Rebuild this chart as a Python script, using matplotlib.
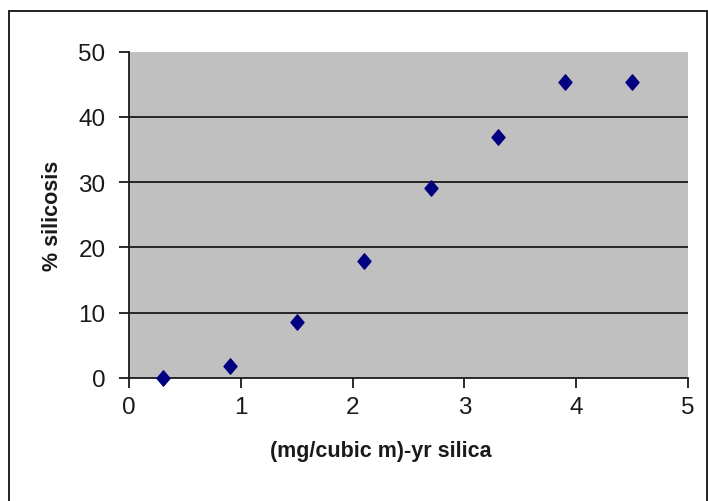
import matplotlib
matplotlib.use("Agg")
import matplotlib.pyplot as plt
from matplotlib.patches import Rectangle
from matplotlib.path import Path

# Data
exposure = [0.3, 0.9, 1.5, 2.1, 2.7, 3.3, 3.9, 4.5]
silicosis_pct = [0.0, 1.9, 8.6, 18.0, 29.1, 36.9, 45.4, 45.4]
x_ticks = [0, 1, 2, 3, 4, 5]
y_ticks = [0, 10, 20, 30, 40, 50]
x_label = "(mg/cubic m)-yr silica"
y_label = "% silicosis"

plt.rcParams['font.family'] = ['Liberation Sans', 'DejaVu Sans']

fig = plt.figure(figsize=(7.08, 5.02), dpi=100)
W, H = 708, 502

# outer chart border
fig.patches.append(Rectangle((9 / W, -0.05), (706.5 - 9) / W, 1 - 11.7 / H + 0.05,
                             transform=fig.transFigure, fill=False,
                             edgecolor='#111111', linewidth=1.3))

left, right, top, bottom = 129, 688, 52.7, 379
ax = fig.add_axes([left / W, 1 - bottom / H, (right - left) / W, (bottom - top) / H])
ax.set_facecolor('#C0C0C0')

diamond = Path([(0, 1), (0.85, 0), (0, -1), (-0.85, 0), (0, 1)],
               [Path.MOVETO, Path.LINETO, Path.LINETO, Path.LINETO, Path.CLOSEPOLY])
ax.plot(exposure, silicosis_pct, linestyle='none', marker=diamond,
        markersize=11, color='#000080', markeredgecolor='#000080', zorder=3,
        clip_on=False)

ax.set_xlim(0, 5)
ax.set_ylim(0, 50)
ax.set_xticks(x_ticks)
ax.set_yticks(y_ticks)
ax.set_xticklabels([str(v) for v in x_ticks])
ax.set_yticklabels([str(v) for v in y_ticks])

for v in y_ticks[1:-1]:
    ax.axhline(v, color='#1a1a1a', linewidth=1.3, zorder=1)

for s in ['top', 'right']:
    ax.spines[s].set_visible(False)
for s in ['left', 'bottom']:
    ax.spines[s].set_color('#1a1a1a')
    ax.spines[s].set_linewidth(1.3)

ax.tick_params(axis='both', direction='out', length=7, width=1.3,
               color='#1a1a1a', labelsize=17.5, labelcolor='#1a1a1a')
ax.tick_params(axis='y', pad=10)
ax.tick_params(axis='x', pad=6)

ax.set_xlabel(x_label, fontsize=15.5, fontweight='bold', color='#1a1a1a')
ax.set_ylabel(y_label, fontsize=15.5, fontweight='bold', color='#1a1a1a')
ax.xaxis.set_label_coords((381 - left) / (right - left), (bottom - 452) / (bottom - top))
ax.yaxis.set_label_coords((53 - left) / (right - left), 0.5)
ax.xaxis.label.set_verticalalignment('center')
ax.yaxis.label.set_verticalalignment('center')

fig.savefig("out.png", dpi=100)
